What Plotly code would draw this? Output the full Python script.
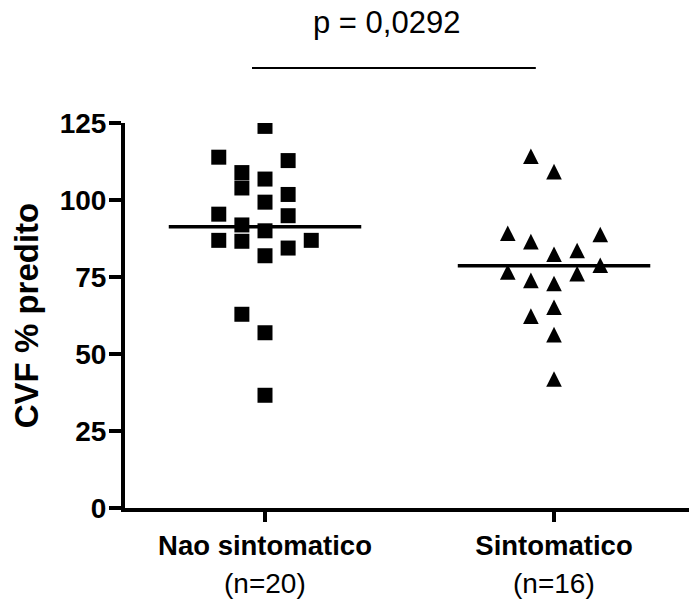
import plotly.graph_objects as go

categories = ["Nao sintomatico", "Sintomatico"]
nao_values = [123.9, 113.9, 112.8, 108.9, 106.8, 103.9, 101.8, 99.3, 95.4, 94.9,
              91.9, 90.0, 86.9, 86.6, 86.9, 84.4, 81.9, 62.9, 56.9, 36.6]
nao_cols = [0, -2, 1, -1, 0, -1, 1, 0, -2, 1, -1, 0, -2, -1, 2, 1, 0, -1, 0, 0]
sint_values = [114.2, 109.2, 89.2, 86.5, 82.4, 83.6, 88.8, 76.6, 73.9, 72.9,
               76.1, 78.8, 65.2, 62.3, 56.3, 41.9]
sint_cols = [-1, 0, -2, -1, 0, 1, 2, -2, -1, 0, 1, 2, 0, -1, 0, 0]
y_ticks = [0, 25, 50, 75, 100, 125]
p_text = "p = 0,0292"

FONT = "Arial, 'Liberation Sans', sans-serif"
STEP = 0.08
HALF = 0.333

fig = go.Figure()

groups = [(nao_values, nao_cols), (sint_values, sint_cols)]
for i, (vals, cols) in enumerate(groups):
    xs = [i + c * STEP for c in cols]
    if i == 0:
        marker = dict(symbol="square", size=15, color="black", line=dict(width=0))
    else:
        marker = dict(symbol="arrow-down", angle=180, standoff=7.8, size=15.6,
                      color="black", line=dict(width=0))
    fig.add_trace(go.Scatter(x=xs, y=vals, mode="markers", marker=marker,
                             showlegend=False, hoverinfo="y"))
    mean = sum(vals) / len(vals)
    fig.add_trace(go.Scatter(x=[i - HALF, i + HALF], y=[mean, mean], mode="lines",
                             line=dict(color="black", width=3.5),
                             showlegend=False, hoverinfo="skip"))
    fig.add_annotation(x=i, xref="x", y=-0.197, yref="paper", text=f"(n={len(vals)})",
                       showarrow=False, yanchor="middle",
                       font=dict(family=FONT, size=28, color="black"))

fig.add_annotation(x=0.422, xref="x", y=1.262, yref="paper", text=p_text,
                   showarrow=False, yanchor="middle",
                   font=dict(family=FONT, size=31, color="black"))
fig.add_shape(type="line", xref="x", yref="paper", x0=-0.045, x1=0.937,
              y0=1.143, y1=1.143, line=dict(color="black", width=2))

fig.update_layout(
    width=689, height=599,
    margin=dict(l=125, r=0, t=123, b=91, pad=0),
    plot_bgcolor="white", paper_bgcolor="white",
    font=dict(family=FONT, color="black"),
    xaxis=dict(range=[-0.4844, 1.467], tickvals=[0, 1],
               ticktext=[f"<b>{c}</b>" for c in categories],
               tickfont=dict(family=FONT, size=27.5, color="black"),
               showline=True, linewidth=4, linecolor="black",
               ticks="outside", ticklen=10, tickwidth=4, tickcolor="black",
               showgrid=False, zeroline=False),
    yaxis=dict(range=[0, 125], tickvals=y_ticks,
               tickfont=dict(family=FONT, size=28, color="black", weight="bold"),
               showline=True, linewidth=4, linecolor="black",
               ticks="outside", ticklen=12, tickwidth=4, tickcolor="black",
               ticklabelstandoff=-3,
               showgrid=False, zeroline=False,
               title=dict(text="CVF % predito", standoff=12,
                          font=dict(family=FONT, size=33, color="black", weight="bold"))),
)

fig.write_html("out.html", config={"displayModeBar": False},
               post_script="document.body.style.margin='0';document.body.style.overflow='hidden';")
